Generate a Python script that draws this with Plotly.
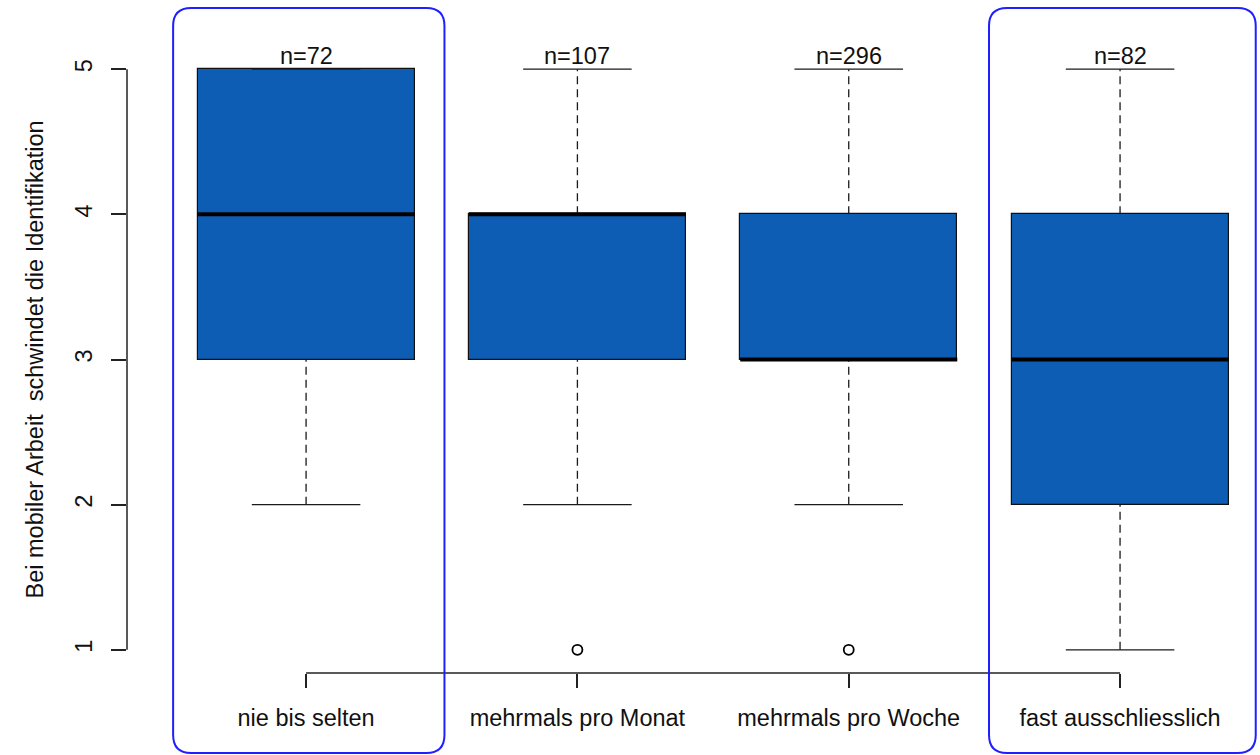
import plotly.graph_objects as go

categories = ["nie bis selten", "mehrmals pro Monat", "mehrmals pro Woche", "fast ausschliesslich"]
n_labels = ["n=72", "n=107", "n=296", "n=82"]
whisker_low = [2, 2, 2, 1]
q1 = [3, 3, 3, 2]
median = [4, 4, 3, 3]
q3 = [5, 4, 4, 4]
whisker_high = [5, 5, 5, 5]
outlier_x = [2, 3]
outlier_y = [1, 1]
y_ticks = [1, 2, 3, 4, 5]
highlight_spans = [(0.51, 1.51), (3.517, 4.50)]
y_title = "Bei mobiler Arbeit\u00a0 schwindet die Identifikation"

W, H = 1260, 755
M = dict(l=127, r=4, t=46, b=82)
XR = [0.34, 4.501]
YR = [0.84, 5.16]
plot_w = W - M["l"] - M["r"]
plot_h = H - M["t"] - M["b"]
FONT = "Liberation Sans, Arial, sans-serif"
FS = 23.5
BOX_W = 0.8
CAP_HALF = 0.2
AX_COL = "#222222"

xs = list(range(1, len(categories) + 1))

fig = go.Figure()

fig.add_trace(go.Bar(
    x=xs, y=[b - a for a, b in zip(q1, q3)], base=q1, width=BOX_W,
    marker=dict(color="#0E5DB5", line=dict(color="#111111", width=1.2)),
    hoverinfo="skip", showlegend=False,
))

# dashed whiskers
wx, wy = [], []
for x, lo, a, b, hi in zip(xs, whisker_low, q1, q3, whisker_high):
    if lo < a:
        wx += [x, x, None]; wy += [lo, a, None]
    if hi > b:
        wx += [x, x, None]; wy += [b, hi, None]
fig.add_trace(go.Scatter(x=wx, y=wy, mode="lines",
                         line=dict(color="#1a1a1a", width=1.3, dash="8px,5px"),
                         hoverinfo="skip", showlegend=False))

# caps
cx, cy = [], []
for x, lo, hi in zip(xs, whisker_low, whisker_high):
    cx += [x - CAP_HALF, x + CAP_HALF, None, x - CAP_HALF, x + CAP_HALF, None]
    cy += [lo, lo, None, hi, hi, None]
fig.add_trace(go.Scatter(x=cx, y=cy, mode="lines",
                         line=dict(color="#1a1a1a", width=1.3),
                         hoverinfo="skip", showlegend=False))

# medians
mx, my = [], []
for x, m in zip(xs, median):
    mx += [x - BOX_W / 2, x + BOX_W / 2, None]
    my += [m, m, None]
fig.add_trace(go.Scatter(x=mx, y=my, mode="lines",
                         line=dict(color="#000000", width=4),
                         hoverinfo="skip", showlegend=False))

# outliers
fig.add_trace(go.Scatter(x=outlier_x, y=outlier_y, mode="markers",
                         marker=dict(symbol="circle-open", size=10, color="#000000",
                                     line=dict(width=1.8, color="#000000")),
                         cliponaxis=False, hoverinfo="skip", showlegend=False))

# n labels
for x, t, hi in zip(xs, n_labels, whisker_high):
    fig.add_annotation(x=x, y=hi, text=t, showarrow=False, yanchor="bottom",
                       yshift=-2, font=dict(family=FONT, size=FS, color="#111111"))

def xd(v):
    return (v - XR[0]) / (XR[1] - XR[0])

def yd(v):
    return (v - YR[0]) / (YR[1] - YR[0])

shapes = []
# y axis line from 1 to 5
shapes.append(dict(type="line", xref="x domain", yref="y domain",
                   x0=0, x1=0, y0=yd(min(y_ticks)), y1=yd(max(y_ticks)),
                   line=dict(color=AX_COL, width=1.5)))
# x axis line from first to last category
shapes.append(dict(type="line", xref="x domain", yref="y domain",
                   x0=xd(xs[0]), x1=xd(xs[-1]), y0=0, y1=0,
                   line=dict(color=AX_COL, width=1.5)))

# highlight rounded rectangles
top_px, bot_px, r_px = 8, 753, 18
yt = (H - M["b"] - top_px) / plot_h
yb = (H - M["b"] - bot_px) / plot_h
ry = r_px / plot_h
rx = r_px / plot_w
for a, b in highlight_spans:
    x0, x1 = xd(a), xd(b)
    p = (f"M {x0+rx},{yt} L {x1-rx},{yt} Q {x1},{yt} {x1},{yt-ry} "
         f"L {x1},{yb+ry} Q {x1},{yb} {x1-rx},{yb} L {x0+rx},{yb} "
         f"Q {x0},{yb} {x0},{yb+ry} L {x0},{yt-ry} Q {x0},{yt} {x0+rx},{yt} Z")
    shapes.append(dict(type="path", xref="x domain", yref="y domain", path=p,
                       line=dict(color="#1f1fff", width=2), fillcolor="rgba(0,0,0,0)"))

fig.update_layout(shapes=shapes)

fig.add_annotation(xref="x domain", yref="y domain", x=0, y=0.5, xshift=-108,
                   text=y_title, textangle=-90, showarrow=False,
                   font=dict(family=FONT, size=FS, color="#111111"))

fig.update_layout(
    width=W, height=H, margin=M,
    paper_bgcolor="white", plot_bgcolor="white",
    bargap=0,
    xaxis=dict(range=XR, tickvals=xs, ticktext=categories, showgrid=False,
               zeroline=False, showline=False, ticks="outside", ticklen=14,
               tickcolor=AX_COL, tickwidth=1.5, ticklabelstandoff=10,
               tickfont=dict(family=FONT, size=FS, color="#111111"), fixedrange=True),
    yaxis=dict(range=YR, tickvals=y_ticks, showgrid=False, zeroline=False,
               showline=False, ticks="outside", ticklen=15, tickcolor=AX_COL,
               tickwidth=1.5, tickangle=-90, ticklabelstandoff=10,
               tickfont=dict(family=FONT, size=FS, color="#111111"), fixedrange=True),
    font=dict(family=FONT),
)

fig.write_html("out.html", config={"displayModeBar": False})
